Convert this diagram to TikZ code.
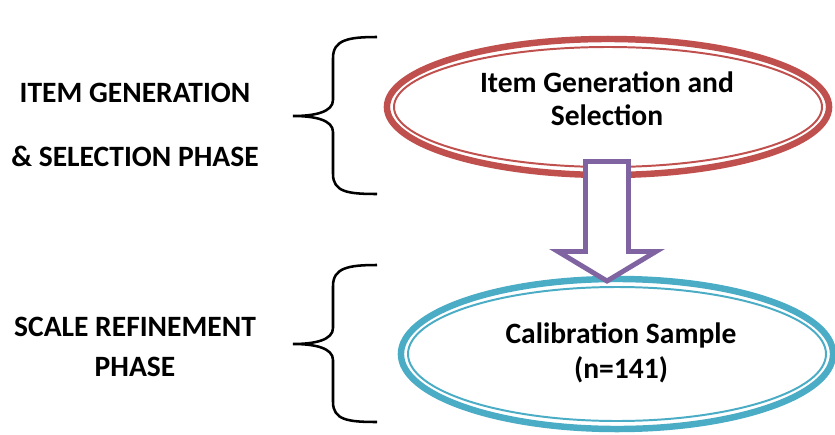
\documentclass[tikz,border=0pt]{standalone}
\usepackage{fontspec}
\setmainfont{Carlito}
\usetikzlibrary{shapes.geometric}
\definecolor{genred}{HTML}{C0504D}
\definecolor{calteal}{HTML}{4BACC6}
\definecolor{arrpurple}{HTML}{8064A2}
\begin{document}
\begin{tikzpicture}[x=0.025cm, y=-0.025cm,
  txt/.style={font=\bfseries\fontsize{21}{23.5}\selectfont, align=center},
  phasebox/.style={ellipse, line width=4.6pt, inner sep=0pt},
  thinring/.style={line width=1.4pt},
  brace/.style={line width=1.8pt}]
\useasboundingbox (0,0) rectangle (835,434);
% left labels
\node[txt] (genlbl) at (135,125) {ITEM GENERATION\\[22.5pt]\& SELECTION PHASE};
\node[txt] (callbl) at (135,347) {SCALE REFINEMENT\\[5pt]PHASE};
% braces
\draw[brace] (377,37) .. controls (348,37) and (333,40) .. (333,58) -- (333,100)
  .. controls (333,112) and (315,116) .. (293,116)
  .. controls (315,116) and (333,120) .. (333,132) -- (333,174)
  .. controls (333,192) and (348,194) .. (377,194);
\draw[brace] (377,265) .. controls (348,265) and (333,268) .. (333,286) -- (333,328)
  .. controls (333,340) and (315,344) .. (293,344)
  .. controls (315,344) and (333,348) .. (333,360) -- (333,402)
  .. controls (333,420) and (348,422) .. (377,422);
% ellipses
\node[phasebox, draw=genred, minimum width=11.05cm, minimum height=3.4cm] (gen) at (608,107) {};
\draw[thinring, genred] (gen.center) ellipse [x radius=214, y radius=60];
\node[txt] (gentxt) at (607,99) {Item Generation and\\Selection};
\node[phasebox, draw=calteal, minimum width=10.8cm, minimum height=3.75cm] (cal) at (617,354) {};
\draw[thinring, calteal] (cal.center) ellipse [x radius=209, y radius=67];
\node[txt, font=\bfseries\fontsize{21}{25}\selectfont] (caltxt) at (621,353) {Calibration Sample\\(n=141)};
% block arrow
\draw[arrpurple, line width=3.5pt, fill=white, line join=miter]
  (585.5,161.5) -- (628.5,161.5) -- (628.5,251.5) -- (656,251.5) -- (607,281)
  -- (558,251.5) -- (585.5,251.5) -- cycle;
\end{tikzpicture}
\end{document}
